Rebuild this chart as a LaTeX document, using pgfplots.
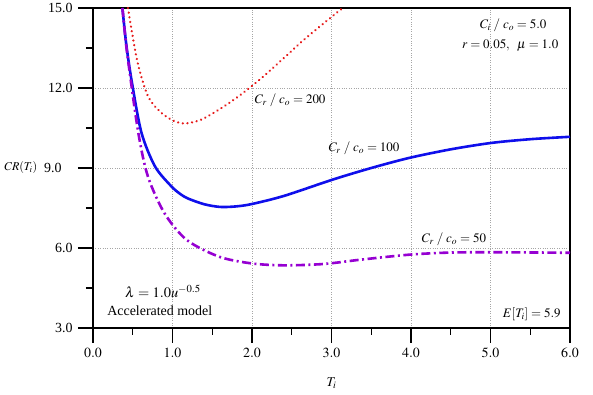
\documentclass[border=0pt]{standalone}
\usepackage{mathptmx}
\usepackage{fontspec}
\setmainfont{Liberation Serif}
\usepackage{pgfplots}
\pgfplotsset{compat=1.18}
\definecolor{cred}{RGB}{230,25,25}
\definecolor{cblue}{RGB}{15,15,235}
\definecolor{cpurple}{RGB}{150,0,210}
\begin{document}
\fontsize{14}{16}\selectfont
\begin{tikzpicture}
\begin{axis}[
 scale only axis, width=477bp, height=320bp,
 xmin=0,xmax=6,ymin=3,ymax=15,
 xtick={0,1,...,6}, ytick={3,6,9,12,15},
 yticklabels={3.0,6.0,{9.0\hspace*{11bp}},12.0,15.0},
 minor xtick={0.5,1.5,...,5.5}, minor ytick={4.5,7.5,10.5,13.5},
 tick pos=left, tick align=outside,
 major tick length=15bp, minor tick length=7bp,
 every tick/.style={black, line width=1.2bp},
 every axis/.append style={line width=1.5bp},
 grid=major, grid style={dotted, gray!70, line width=0.6bp},
 tick label style={font=\fontsize{14}{16}\selectfont},
 /pgf/number format/fixed, /pgf/number format/fixed zerofill, /pgf/number format/precision=1,
 xlabel={$T_i$}, ylabel={$CR(T_i)$},
 label style={font=\fontsize{12}{14}\selectfont},
 xlabel style={at={(axis description cs:0.5,0)}, anchor=center, yshift=-55bp, font=\fontsize{13.5}{15}\selectfont},
 ylabel style={rotate=-90, at={(axis description cs:0,0.5)}, anchor=west, xshift=-94bp},
 clip=true,
]
\addplot[cred, smooth, line width=2.4bp, line cap=round, dash pattern=on 0.1bp off 4.6bp] coordinates {
(0.44,15.0) (0.49,14.09) (0.57,12.84) (0.69,11.70) (0.83,11.15) (0.98,10.82)
(1.14,10.67) (1.35,10.8) (1.59,11.2) (1.8,11.62) (2.0,12.08) (2.2,12.58)
(2.41,13.15) (2.65,13.8) (2.9,14.42) (3.14,15.0)};
\addplot[cblue, smooth, line width=2.6bp] coordinates {
(0.37,15.0) (0.42,13.6) (0.49,12.2) (0.61,10.32) (0.78,9.06)
(0.98,8.33) (1.1,8.02) (1.2,7.85) (1.4,7.64) (1.6,7.54) (1.8,7.56) (2.0,7.65)
(2.41,7.96) (3.01,8.56) (3.5,9.0) (3.98,9.38) (4.5,9.7) (5.01,9.94)
(5.5,10.08) (6.0,10.17)};
\addplot[cpurple, smooth, line width=2.6bp, dash pattern=on 9bp off 3.5bp on 2bp off 3.5bp] coordinates {
(0.37,15.0) (0.41,13.8) (0.45,12.84) (0.57,10.32) (0.69,8.69) (0.90,7.30)
(1.18,6.3) (1.59,5.67) (2.0,5.42) (2.41,5.35) (2.9,5.4) (3.36,5.56)
(3.98,5.75) (4.5,5.83) (5.01,5.84) (5.63,5.83) (6.0,5.82)};
\node[font=\fontsize{13}{15}\selectfont] at (axis cs:2.48,11.54) {$C_r\;/\;c_o=200$};
\node[font=\fontsize{13}{15}\selectfont] at (axis cs:3.41,9.75) {$C_r\;/\;c_o=100$};
\node[font=\fontsize{13}{15}\selectfont] at (axis cs:4.54,6.34) {$C_r\;/\;c_o=50$};
\node[font=\fontsize{13}{15}\selectfont, anchor=west] at (axis cs:4.80,14.35) {$C_i\;/\;c_o=5.0$};
\node[font=\fontsize{13}{15}\selectfont, anchor=east] at (axis cs:5.92,13.58) {$r=0.05,\;\;\mu=1.0$};
\node[font=\fontsize{14.5}{16}\selectfont] at (axis cs:0.88,4.38) {$\lambda=1.0u^{-0.5}$};
\node[font=\fontsize{14}{16}\selectfont] at (axis cs:0.84,3.64) {Accelerated model};
\node[font=\fontsize{13}{15}\selectfont, anchor=east] at (axis cs:5.95,3.52) {$E[T_i]=5.9$};
\end{axis}
\pgfresetboundingbox
\path ([shift={(-93bp,-67bp)}]current axis.south west) rectangle ([shift={(23bp,8bp)}]current axis.north east);
\end{tikzpicture}
\end{document}
